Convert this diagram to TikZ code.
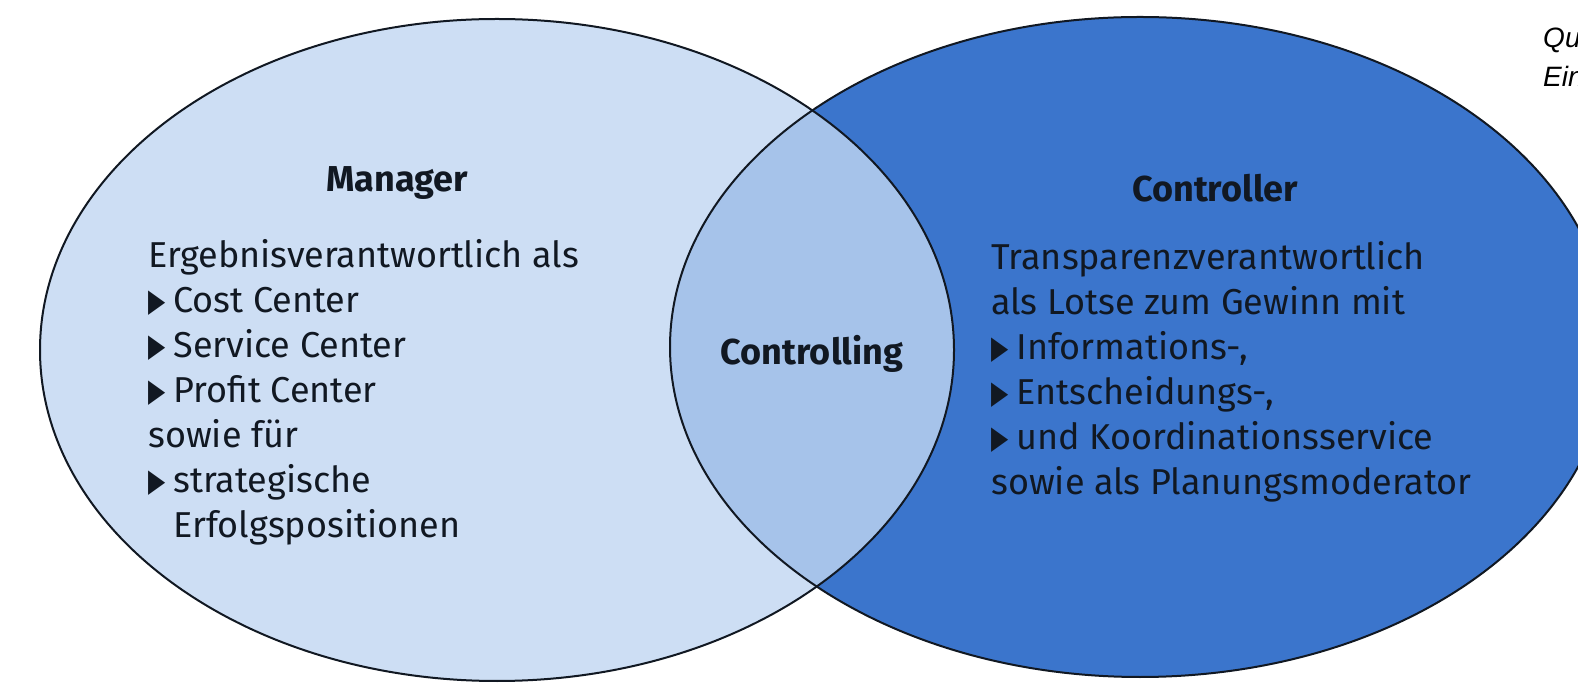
\documentclass[tikz,border=0pt]{standalone}
\usepackage{fontspec}
\setmainfont{Fira Sans}
\newfontfamily\symfont{DejaVu Sans}
\newfontfamily\srcfont{Liberation Sans}
\usetikzlibrary{positioning}

\definecolor{mgrblue}{HTML}{CDDEF4}
\definecolor{ctlblue}{HTML}{A6C3EA}
\definecolor{ctrblue}{HTML}{3B75CC}
\definecolor{inkdark}{HTML}{111822}

\newcommand{\tri}{\raisebox{1pt}{\symfont\fontsize{32}{32}\selectfont\scalebox{0.7}[1]{▶}}\hspace{8pt}}

\tikzset{
  setline/.style={draw=inkdark, line width=2pt},
  head/.style={font=\fontsize{36}{45}\selectfont\bfseries, text=inkdark, inner sep=0pt},
  body/.style={font=\fontsize{36}{45}\selectfont, text=inkdark, align=left, inner sep=0pt},
}

\begin{document}
\begin{tikzpicture}[x=1pt, y=1pt]
    \useasboundingbox (0,0) rectangle (1578,685);

    % Sets
    \fill[mgrblue] (497,335) ellipse [x radius=457, y radius=331];
    \fill[ctrblue] (1140,338) ellipse [x radius=470, y radius=330];

    % Overlap
    \begin{scope}
        \clip (497,335) ellipse [x radius=457, y radius=331];
        \fill[ctlblue] (1140,338) ellipse [x radius=470, y radius=330];
    \end{scope}

    % Outlines
    \draw[setline] (497,335) ellipse [x radius=457, y radius=331];
    \draw[setline] (1140,338) ellipse [x radius=470, y radius=330];

    % Manager
    \node[head] (mgr) at (397,502) {Manager};
    \node[body, anchor=north west] (mgrtext) at (148,446)
        {Ergebnisverantwortlich als\\
         \tri Cost Center\\
         \tri Service Center\\
         \tri Profit Center\\
         sowie für\\
         \tri strategische\\
         \phantom{\tri}Erfolgspositionen};

    % Controller
    \node[head] (ctr) at (1215,497) {Controller};
    \node[body, anchor=north west] (ctrtext) at (991,444)
        {Transparenzverantwortlich\\
         als Lotse zum Gewinn mit\\
         \tri Informations-,\\
         \tri Entscheidungs-,\\
         \tri und Koordinationsservice\\
         sowie als Planungsmoderator};

    % Controlling
    \node[head] (ctl) at (812,331) {Controlling};

    % Source
    \node[font=\srcfont\itshape\fontsize{28}{39}\selectfont, align=left, inner sep=0pt, anchor=base west] (src) at (1543,598)
        {Qu\\Ein};
\end{tikzpicture}
\end{document}
